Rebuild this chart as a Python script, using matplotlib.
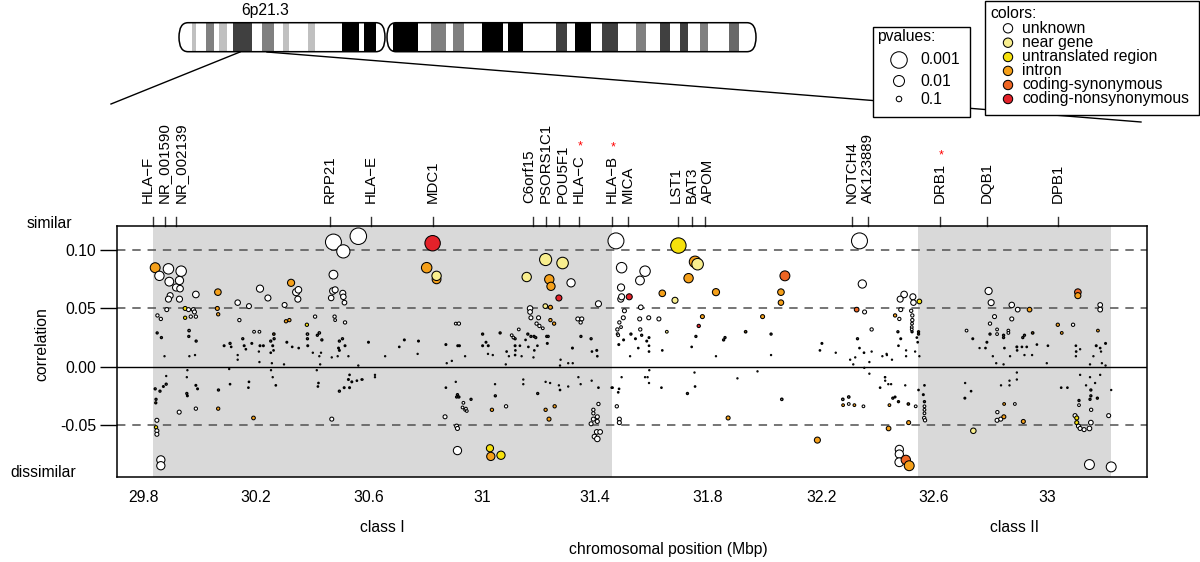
import matplotlib
matplotlib.use("Agg")
import matplotlib.pyplot as plt
from matplotlib.patches import Rectangle, FancyBboxPatch
from matplotlib.transforms import blended_transform_factory
import numpy as np

plt.rcParams['font.family'] = ['Liberation Sans', 'DejaVu Sans']
FS = 11.3

# ---------------- data ----------------
cat_names = ['unknown', 'near gene', 'untranslated region', 'intron',
             'coding-synonymous', 'coding-nonsynonymous']
cat_colors = ['#ffffff', '#f8ee8e', '#f6e10c', '#f5a01a', '#ee6523', '#e4222a']

pval_legend = [0.001, 0.01, 0.1]
pval_labels = ['0.001', '0.01', '0.1']

genes = ['HLA\u2212F', 'NR_001590', 'NR_002139', 'RPP21', 'HLA\u2212E', 'MDC1',
         'C6orf15', 'PSORS1C1', 'POU5F1', 'HLA\u2212C', 'HLA\u2212B', 'MICA',
         'LST1', 'BAT3', 'APOM', 'NOTCH4', 'AK123889', 'DRB1', 'DQB1', 'DPB1']
gene_pos = [29.834, 29.876, 29.915, 30.462, 30.607, 30.825, 31.179, 31.227,
            31.273, 31.342, 31.459, 31.517, 31.694, 31.744, 31.789, 32.310,
            32.367, 32.620, 32.787, 33.039]
gene_star = ['HLA\u2212C', 'HLA\u2212B', 'DRB1']

class_names = ['class I', 'class II']
class_start = [29.834, 32.544]
class_end = [31.459, 33.225]

x_ticks = [29.8, 30.2, 30.6, 31.0, 31.4, 31.8, 32.2, 32.6, 33.0]
x_tick_labels = ['29.8', '30.2', '30.6', '31', '31.4', '31.8', '32.2', '32.6', '33']
y_ticks = [0.10, 0.05, 0.00, -0.05]
y_tick_labels = ['0.10', '0.05', '0.00', '-0.05']

# chromosome 6 ideogram (drawing units along the chromosome)
arm_start = [179, 387]
arm_end = [385, 756]
band_start = [191.7, 205.7, 219.3, 233.3, 261.7, 282.7, 308.3, 341.7, 364, 393.3,
              430.7, 452.7, 481.7, 508.3, 556, 575, 601.7, 635.7, 660, 680, 700, 729.3]
band_end = [196, 214.3, 226.7, 251.7, 274, 288.7, 315.3, 359, 376, 418.3,
            446, 464, 502.7, 523.3, 567.3, 590.7, 618.3, 646, 670, 688.3, 708.3, 739.3]
band_shade = ['#c0c0c0', '#808080', '#c0c0c0', '#404040', '#808080', '#c0c0c0',
              '#c0c0c0', '#000000', '#000000', '#000000', '#808080', '#808080',
              '#000000', '#000000', '#404040', '#000000', '#404040', '#808080',
              '#404040', '#404040', '#808080', '#696969']

# SNPs: position (Mbp), correlation, -log10(p), category index
pos = [
    30.474, 30.562, 30.509, 29.843, 29.890, 29.935, 29.858, 29.893, 29.929, 29.917,
    29.931, 29.896, 29.890, 29.929, 29.987, 30.065, 30.214, 30.242, 30.135, 30.175,
    30.301, 30.324, 30.342, 30.350, 30.348, 30.474, 30.472, 30.466, 30.480, 30.507,
    30.509, 30.513, 29.884, 29.949, 29.961, 29.978, 29.982, 29.969, 29.987, 29.949,
    30.063, 30.066, 29.851, 29.863, 30.141, 30.306, 30.318, 30.380, 30.409, 30.478,
    30.480, 30.515, 29.963, 30.193, 30.212, 30.263, 29.850, 29.865, 29.962, 29.988,
    30.153, 30.087, 30.108, 30.112, 30.158, 30.185, 30.214, 30.226, 30.252, 30.264,
    30.259, 30.262, 30.252, 30.309, 30.328, 30.351, 30.382, 30.382, 30.383, 30.417,
    30.424, 30.433, 30.495, 30.506, 30.492, 30.495, 30.515, 29.876, 29.964, 29.984,
    30.135, 30.164, 30.210, 30.135, 30.401, 30.430, 30.424, 30.468, 30.489, 30.527,
    30.562, 30.299, 30.256, 30.212, 30.427, 30.415, 30.105, 29.957, 30.253, 29.882,
    29.955, 30.175, 29.882, 29.872, 29.843, 29.860, 29.987, 29.993, 30.108, 30.067,
    30.173, 30.270, 30.259, 29.955, 29.957, 29.846, 29.845, 30.421, 30.419, 30.531,
    30.527, 30.539, 30.557, 30.574, 30.512, 30.531, 30.495, 29.928, 29.987, 30.066,
    30.191, 30.468, 29.849, 29.846, 29.849, 29.849, 29.863, 29.863,
    30.825, 31.474, 30.804, 30.839, 30.839, 31.225, 31.285, 31.158, 31.238, 31.244,
    31.315, 31.272, 31.494, 31.492, 31.491, 31.494, 31.412, 31.170, 31.170, 31.224,
    31.242, 31.173, 31.200, 31.193, 31.203, 31.215, 31.242, 31.255, 31.339, 31.353,
    31.349, 31.504, 31.500, 31.486, 31.492, 31.479, 31.480, 31.482, 30.907, 30.918,
    31.002, 31.064, 31.130, 31.105, 31.111, 31.117, 31.162, 31.173, 31.184, 31.190,
    31.229, 31.234, 31.350, 31.386, 30.598, 30.725, 30.775, 30.707, 30.872, 30.914,
    30.920, 31.014, 31.022, 31.002, 31.087, 31.117, 31.118, 31.117, 31.134, 31.154,
    31.164, 31.185, 31.196, 31.231, 31.320, 31.406, 31.408, 31.389, 30.772, 30.657,
    30.893, 30.940, 31.021, 31.038, 31.095, 31.140, 31.182, 31.278, 31.305, 31.321,
    31.276, 31.084, 30.875, 30.621, 30.621, 30.577, 30.907, 31.046, 31.146, 31.146,
    31.225, 31.241, 31.272, 31.305, 31.341, 31.388, 31.349, 31.276, 31.412, 31.459,
    31.485, 31.482, 30.872, 30.913, 30.910, 30.918, 30.961, 31.047, 31.197, 30.934,
    30.931, 30.940, 30.946, 30.943, 30.869, 30.910, 30.913, 31.035, 31.085, 31.225,
    31.257, 31.237, 31.412, 31.394, 31.394, 31.408, 31.394, 31.408, 31.386, 31.406,
    31.418, 31.398, 31.408, 31.477, 31.486, 31.486, 30.913, 31.028, 31.031, 31.067,
    31.695, 31.754, 31.763, 31.731, 32.072, 31.577, 31.559, 31.521, 31.638, 31.683,
    31.828, 32.058, 32.058, 32.346, 32.336, 32.326, 32.354, 31.562, 31.558, 31.590,
    31.626, 31.780, 31.993, 31.767, 31.560, 31.565, 31.654, 31.757, 31.860, 31.855,
    31.933, 32.023, 32.379, 32.329, 31.527, 31.501, 31.543, 31.583, 31.591, 31.484,
    31.553, 31.591, 31.591, 31.638, 31.742, 32.203, 32.196, 32.252, 32.336, 32.352,
    32.379, 31.524, 31.828, 32.023, 32.303, 32.321, 32.314, 32.371, 32.417, 32.432,
    31.592, 32.353, 32.371, 31.752, 31.975, 31.494, 31.577, 31.586, 31.591, 31.904,
    32.426, 32.438, 31.462, 31.635, 31.754, 32.409, 31.727, 32.061, 32.277, 32.298,
    32.298, 32.278, 32.318, 32.350, 32.442, 31.871, 32.187, 32.439,
    32.793, 32.802, 33.109, 33.109, 32.494, 32.480, 32.525, 32.527, 32.548, 32.482,
    32.462, 32.477, 32.519, 32.523, 32.523, 32.522, 32.521, 32.521, 32.522, 32.545,
    32.545, 32.472, 32.482, 32.474, 32.539, 32.542, 32.501, 32.501, 32.533, 32.548,
    32.433, 32.451, 32.875, 32.896, 32.938, 32.814, 32.875, 32.798, 32.715, 32.823,
    32.823, 32.863, 32.863, 32.798, 32.846, 32.846, 32.920, 32.914, 32.949, 33.038,
    33.052, 33.092, 33.180, 33.188, 33.188, 32.737, 32.787, 32.782, 32.849, 32.893,
    32.894, 32.911, 32.928, 32.964, 32.947, 32.920, 32.869, 32.808, 32.761, 32.820,
    32.846, 33.003, 32.999, 33.102, 33.103, 33.117, 33.102, 33.174, 33.188, 33.191,
    33.207, 33.164, 33.152, 33.194, 33.207, 32.427, 32.427, 32.448, 32.498, 32.566,
    32.545, 32.562, 32.566, 32.566, 32.566, 32.566, 32.565, 32.568, 32.454, 32.462,
    32.474, 32.509, 32.535, 32.510, 32.710, 32.731, 32.709, 32.837, 32.867, 32.867,
    32.893, 32.893, 32.848, 32.886, 32.824, 32.823, 32.836, 32.847, 32.916, 32.739,
    33.050, 33.072, 33.117, 33.138, 33.152, 33.155, 33.155, 33.152, 33.178, 33.113,
    33.113, 33.156, 33.170, 33.188, 33.227, 33.218, 33.099, 33.105, 33.105, 33.111,
    33.117, 33.131, 33.150, 33.155, 32.477, 32.477, 32.477, 32.500, 32.512, 33.150,
    33.227,
]
corr = [
    0.107, 0.112, 0.099, 0.085, 0.084, 0.082, 0.078, 0.073, 0.074, 0.068,
    0.067, 0.061, 0.058, 0.058, 0.062, 0.064, 0.067, 0.059, 0.055, 0.052,
    0.053, 0.072, 0.064, 0.066, 0.058, 0.079, 0.065, 0.059, 0.066, 0.063,
    0.060, 0.055, 0.049, 0.050, 0.049, 0.049, 0.047, 0.043, 0.043, 0.042,
    0.050, 0.045, 0.044, 0.041, 0.040, 0.039, 0.040, 0.036, 0.043, 0.043,
    0.040, 0.038, 0.031, 0.030, 0.030, 0.028, 0.029, 0.025, 0.026, 0.022,
    0.024, 0.018, 0.020, 0.017, 0.018, 0.020, 0.018, 0.018, 0.022, 0.024,
    0.018, 0.014, 0.012, 0.021, 0.017, 0.016, 0.028, 0.024, 0.018, 0.027,
    0.029, 0.023, 0.022, 0.024, 0.016, 0.014, 0.018, 0.009, 0.009, 0.010,
    0.010, 0.015, 0.013, 0.006, 0.012, 0.012, 0.009, 0.008, 0.009, 0.009,
    0.001, 0.002, 0.003, 0.004, 0.002, -0.003, -0.002, -0.003, -0.003, -0.008,
    -0.009, -0.013, -0.015, -0.017, -0.019, -0.021, -0.016, -0.019, -0.015, -0.020,
    -0.018, -0.016, -0.009, -0.023, -0.025, -0.028, -0.031, -0.014, -0.017, -0.007,
    -0.011, -0.013, -0.012, -0.011, -0.018, -0.018, -0.021, -0.039, -0.036, -0.036,
    -0.044, -0.045, -0.046, -0.052, -0.055, -0.058, -0.080, -0.085,
    0.106, 0.108, 0.085, 0.075, 0.078, 0.092, 0.089, 0.077, 0.075, 0.069,
    0.072, 0.059, 0.085, 0.068, 0.058, 0.060, 0.054, 0.050, 0.047, 0.052,
    0.051, 0.042, 0.042, 0.037, 0.035, 0.033, 0.040, 0.037, 0.041, 0.041,
    0.038, 0.048, 0.042, 0.038, 0.034, 0.032, 0.028, 0.027, 0.037, 0.037,
    0.028, 0.029, 0.032, 0.027, 0.025, 0.024, 0.028, 0.026, 0.026, 0.025,
    0.026, 0.026, 0.026, 0.024, 0.021, 0.023, 0.022, 0.017, 0.019, 0.018,
    0.018, 0.021, 0.018, 0.018, 0.013, 0.018, 0.014, 0.010, 0.018, 0.023,
    0.017, 0.014, 0.018, 0.020, 0.016, 0.014, 0.009, 0.013, 0.011, 0.009,
    0.005, 0.009, 0.011, 0.010, 0.009, 0.009, 0.008, 0.006, 0.003, 0.003,
    0.001, 0.002, 0.003, -0.007, -0.009, -0.011, -0.013, -0.015, -0.011, -0.015,
    -0.013, -0.014, -0.016, -0.017, -0.009, -0.012, -0.015, -0.020, -0.018, -0.018,
    -0.019, -0.022, -0.018, -0.024, -0.026, -0.026, -0.028, -0.025, -0.023, -0.031,
    -0.035, -0.037, -0.038, -0.036, -0.043, -0.051, -0.053, -0.037, -0.034, -0.037,
    -0.034, -0.045, -0.032, -0.037, -0.040, -0.043, -0.045, -0.047, -0.049, -0.056,
    -0.056, -0.060, -0.062, -0.034, -0.045, -0.048, -0.072, -0.070, -0.077, -0.076,
    0.104, 0.090, 0.088, 0.076, 0.078, 0.082, 0.074, 0.060, 0.063, 0.057,
    0.064, 0.064, 0.055, 0.071, 0.108, 0.049, 0.047, 0.051, 0.041, 0.042,
    0.041, 0.043, 0.043, 0.035, 0.032, 0.027, 0.030, 0.026, 0.025, 0.023,
    0.030, 0.028, 0.032, 0.024, 0.028, 0.023, 0.024, 0.022, 0.025, 0.019,
    0.016, 0.018, 0.013, 0.014, 0.017, 0.020, 0.014, 0.012, 0.016, 0.012,
    0.013, 0.009, 0.009, 0.010, 0.006, 0.008, 0.002, 0.004, 0.009, 0.011,
    -0.003, -0.001, -0.006, -0.005, -0.004, -0.009, -0.009, -0.009, -0.014, -0.010,
    -0.009, -0.015, -0.018, -0.018, -0.017, -0.018, -0.023, -0.028, -0.028, -0.026,
    -0.032, -0.033, -0.033, -0.034, -0.033, -0.044, -0.063, -0.053,
    0.065, 0.055, 0.064, 0.061, 0.062, 0.058, 0.060, 0.055, 0.056, 0.049,
    0.044, 0.041, 0.048, 0.044, 0.040, 0.037, 0.034, 0.032, 0.030, 0.030,
    0.028, 0.030, 0.024, 0.018, 0.025, 0.021, 0.014, 0.009, 0.013, 0.009,
    0.010, 0.006, 0.053, 0.049, 0.049, 0.043, 0.041, 0.037, 0.031, 0.032,
    0.028, 0.031, 0.029, 0.028, 0.027, 0.025, 0.027, 0.025, 0.029, 0.036,
    0.029, 0.036, 0.031, 0.053, 0.049, 0.024, 0.021, 0.016, 0.016, 0.017,
    0.014, 0.017, 0.017, 0.019, 0.010, 0.010, 0.009, 0.009, 0.016, 0.003,
    0.002, 0.018, 0.003, 0.018, 0.013, 0.015, 0.009, 0.018, 0.016, 0.013,
    0.020, 0.009, 0.002, 0.003, 0.001, -0.009, -0.012, -0.015, -0.016, -0.016,
    -0.020, -0.024, -0.030, -0.034, -0.037, -0.040, -0.044, -0.046, -0.027, -0.026,
    -0.030, -0.032, -0.034, -0.048, -0.014, -0.021, -0.027, -0.016, -0.012, -0.016,
    -0.005, -0.011, -0.032, -0.032, -0.039, -0.046, -0.045, -0.043, -0.047, -0.055,
    -0.018, -0.018, -0.007, -0.016, -0.009, -0.020, -0.025, -0.028, -0.027, -0.029,
    -0.033, -0.037, -0.014, -0.007, -0.020, -0.042, -0.042, -0.044, -0.048, -0.051,
    -0.053, -0.054, -0.053, -0.048, -0.071, -0.075, -0.082, -0.080, -0.085, -0.084,
    -0.086,
]
logp = [
    2.9, 3.0, 2.4, 1.8, 1.9, 1.9, 1.7, 1.6, 1.5, 1.3,
    1.2, 1.1, 1.1, 1.1, 1.2, 1.2, 1.3, 1.1, 1.0, 0.9,
    0.9, 1.3, 1.3, 1.2, 1.1, 1.6, 1.2, 1.0, 1.1, 1.1,
    1.0, 0.85, 0.73, 0.73, 0.73, 0.73, 0.73, 0.6, 0.6, 0.6,
    0.73, 0.6, 0.6, 0.6, 0.6, 0.6, 0.6, 0.6, 0.6, 0.6,
    0.5, 0.6, 0.42, 0.5, 0.5, 0.42, 0.36, 0.36, 0.36, 0.36,
    0.36, 0.3, 0.36, 0.24, 0.3, 0.3, 0.3, 0.3, 0.36, 0.36,
    0.3, 0.24, 0.24, 0.3, 0.24, 0.24, 0.42, 0.36, 0.3, 0.36,
    0.42, 0.36, 0.36, 0.36, 0.3, 0.3, 0.3, 0.18, 0.18, 0.18,
    0.18, 0.24, 0.18, 0.18, 0.18, 0.18, 0.18, 0.18, 0.18, 0.18,
    0.18, 0.18, 0.18, 0.18, 0.18, 0.18, 0.18, 0.18, 0.18, 0.18,
    0.18, 0.24, 0.36, 0.3, 0.36, 0.36, 0.3, 0.3, 0.24, 0.36,
    0.24, 0.24, 0.18, 0.36, 0.3, 0.36, 0.36, 0.24, 0.24, 0.24,
    0.3, 0.3, 0.24, 0.24, 0.3, 0.3, 0.36, 0.73, 0.6, 0.6,
    0.67, 0.73, 0.73, 0.6, 0.73, 0.73, 1.5, 1.5,
    2.8, 2.9, 1.9, 1.6, 1.7, 2.2, 2.1, 1.7, 1.7, 1.5,
    1.5, 1.1, 1.9, 1.3, 1.1, 1.1, 1.1, 1.0, 0.85, 0.85,
    0.73, 0.73, 0.73, 0.6, 0.6, 0.5, 0.6, 0.6, 0.73, 0.73,
    0.6, 0.73, 0.73, 0.6, 0.5, 0.6, 0.5, 0.5, 0.5, 0.6,
    0.36, 0.36, 0.5, 0.5, 0.5, 0.36, 0.36, 0.36, 0.36, 0.36,
    0.36, 0.36, 0.36, 0.36, 0.3, 0.3, 0.3, 0.24, 0.3, 0.3,
    0.3, 0.3, 0.3, 0.3, 0.24, 0.3, 0.24, 0.24, 0.24, 0.24,
    0.24, 0.24, 0.24, 0.3, 0.3, 0.3, 0.24, 0.24, 0.18, 0.18,
    0.18, 0.18, 0.18, 0.18, 0.18, 0.18, 0.18, 0.18, 0.18, 0.18,
    0.18, 0.18, 0.18, 0.18, 0.18, 0.18, 0.18, 0.18, 0.18, 0.18,
    0.18, 0.18, 0.18, 0.18, 0.18, 0.18, 0.18, 0.24, 0.24, 0.24,
    0.24, 0.24, 0.24, 0.36, 0.36, 0.36, 0.36, 0.36, 0.36, 0.5,
    0.5, 0.5, 0.5, 0.5, 0.73, 0.73, 0.73, 0.6, 0.6, 0.6,
    0.6, 0.73, 0.6, 0.6, 0.6, 0.73, 0.73, 0.73, 0.73, 0.85,
    0.85, 0.85, 1.0, 0.6, 0.73, 0.73, 1.5, 1.3, 1.5, 1.5,
    2.8, 2.1, 2.1, 1.7, 1.8, 1.9, 1.6, 1.1, 1.2, 1.1,
    1.3, 1.2, 1.0, 1.5, 2.9, 0.85, 0.73, 0.85, 0.73, 0.73,
    0.73, 0.73, 0.73, 0.6, 0.6, 0.36, 0.5, 0.36, 0.36, 0.36,
    0.42, 0.36, 0.6, 0.36, 0.36, 0.3, 0.3, 0.3, 0.3, 0.3,
    0.24, 0.24, 0.24, 0.24, 0.24, 0.3, 0.24, 0.18, 0.24, 0.24,
    0.18, 0.18, 0.18, 0.18, 0.18, 0.18, 0.18, 0.18, 0.18, 0.18,
    0.18, 0.18, 0.18, 0.18, 0.18, 0.18, 0.18, 0.18, 0.18, 0.18,
    0.18, 0.18, 0.24, 0.24, 0.24, 0.24, 0.36, 0.42, 0.42, 0.42,
    0.5, 0.5, 0.5, 0.5, 0.5, 0.73, 1.1, 0.85,
    1.3, 1.1, 1.2, 1.1, 1.2, 1.1, 1.1, 1.0, 0.85, 0.73,
    0.6, 0.6, 0.6, 0.6, 0.6, 0.5, 0.5, 0.5, 0.36, 0.36,
    0.36, 0.36, 0.3, 0.24, 0.24, 0.24, 0.18, 0.18, 0.18, 0.18,
    0.18, 0.18, 1.0, 0.85, 0.85, 0.73, 0.73, 0.6, 0.5, 0.5,
    0.5, 0.5, 0.5, 0.36, 0.36, 0.36, 0.36, 0.36, 0.42, 0.6,
    0.5, 0.6, 0.5, 0.85, 0.85, 0.3, 0.3, 0.24, 0.24, 0.3,
    0.24, 0.24, 0.24, 0.24, 0.18, 0.18, 0.18, 0.18, 0.18, 0.18,
    0.18, 0.24, 0.18, 0.24, 0.24, 0.18, 0.18, 0.3, 0.24, 0.18,
    0.3, 0.18, 0.18, 0.18, 0.18, 0.18, 0.18, 0.18, 0.18, 0.24,
    0.24, 0.3, 0.36, 0.5, 0.5, 0.5, 0.6, 0.6, 0.36, 0.3,
    0.36, 0.42, 0.5, 0.73, 0.18, 0.24, 0.3, 0.18, 0.18, 0.18,
    0.18, 0.18, 0.5, 0.5, 0.6, 0.73, 0.73, 0.73, 0.73, 1.0,
    0.24, 0.24, 0.18, 0.18, 0.18, 0.36, 0.36, 0.36, 0.36, 0.36,
    0.5, 0.6, 0.18, 0.18, 0.18, 0.73, 0.73, 0.73, 0.73, 0.73,
    0.73, 0.73, 0.85, 0.85, 1.5, 1.5, 1.6, 1.7, 1.8, 1.8,
    1.8,
]
cat = [
    0, 0, 0, 3, 0, 0, 0, 0, 0, 0,
    0, 0, 0, 0, 0, 3, 0, 0, 0, 0,
    0, 3, 0, 0, 0, 0, 0, 0, 0, 0,
    0, 0, 0, 2, 0, 0, 0, 0, 0, 2,
    3, 3, 0, 0, 0, 3, 3, 2, 0, 0,
    0, 0, 0, 0, 0, 3, 0, 0, 0, 0,
    0, 0, 0, 3, 0, 0, 0, 0, 0, 0,
    0, 3, 3, 0, 3, 0, 0, 0, 0, 0,
    0, 0, 0, 0, 0, 0, 0, 0, 0, 0,
    0, 0, 0, 0, 3, 3, 0, 0, 0, 0,
    0, 3, 3, 0, 3, 3, 3, 0, 0, 0,
    0, 0, 0, 0, 0, 0, 0, 0, 0, 0,
    0, 3, 3, 0, 0, 0, 3, 0, 0, 0,
    0, 0, 0, 0, 0, 0, 0, 0, 0, 3,
    3, 0, 0, 2, 0, 0, 0, 0,
    5, 0, 3, 3, 1, 1, 1, 1, 3, 3,
    0, 5, 0, 0, 0, 0, 0, 0, 0, 1,
    3, 0, 0, 0, 0, 0, 3, 3, 0, 0,
    0, 0, 0, 0, 0, 0, 0, 0, 0, 0,
    3, 3, 0, 0, 0, 0, 0, 0, 0, 0,
    0, 0, 0, 0, 0, 0, 5, 0, 0, 0,
    0, 0, 3, 0, 0, 0, 0, 0, 0, 0,
    0, 0, 0, 0, 0, 0, 0, 0, 3, 0,
    0, 0, 3, 0, 0, 0, 0, 3, 3, 3,
    3, 0, 0, 0, 0, 0, 0, 0, 3, 3,
    3, 3, 3, 0, 0, 0, 0, 0, 0, 0,
    0, 0, 0, 0, 0, 0, 0, 0, 0, 0,
    0, 0, 0, 0, 0, 0, 0, 3, 0, 3,
    3, 3, 0, 0, 0, 0, 0, 0, 0, 0,
    0, 0, 0, 0, 0, 0, 0, 2, 3, 2,
    2, 3, 1, 3, 4, 0, 0, 5, 3, 1,
    3, 3, 3, 0, 0, 4, 0, 0, 0, 0,
    0, 3, 3, 5, 0, 0, 1, 0, 0, 0,
    3, 0, 0, 0, 0, 0, 0, 0, 0, 0,
    0, 0, 0, 0, 5, 0, 0, 3, 0, 0,
    0, 0, 3, 0, 3, 3, 0, 0, 0, 3,
    0, 0, 0, 3, 3, 0, 0, 0, 0, 0,
    0, 3, 0, 0, 0, 0, 0, 0, 0, 0,
    0, 3, 3, 0, 3, 3, 3, 3,
    0, 0, 4, 3, 0, 0, 0, 0, 2, 0,
    3, 0, 0, 0, 0, 0, 0, 0, 0, 3,
    3, 0, 0, 0, 0, 0, 3, 0, 0, 3,
    3, 0, 0, 0, 3, 0, 0, 0, 0, 0,
    0, 0, 0, 0, 0, 0, 0, 0, 3, 3,
    3, 0, 3, 0, 0, 0, 0, 3, 0, 0,
    0, 0, 3, 0, 3, 0, 0, 0, 3, 0,
    3, 0, 0, 0, 3, 0, 0, 0, 0, 3,
    0, 0, 0, 3, 0, 0, 0, 3, 0, 0,
    0, 0, 0, 0, 0, 0, 0, 0, 0, 0,
    3, 3, 0, 3, 0, 3, 0, 0, 0, 0,
    0, 0, 3, 0, 0, 0, 0, 3, 3, 1,
    3, 3, 0, 0, 0, 0, 0, 0, 3, 0,
    0, 0, 0, 3, 0, 0, 0, 2, 2, 0,
    0, 0, 0, 0, 0, 0, 0, 4, 3, 0,
    0,
]


def marker_diam(lp):
    # circle diameter (points) grows linearly with -log10(p)
    return 3.96 * np.asarray(lp, dtype=float)


def marker_area(lp):
    return marker_diam(lp) ** 2


fig = plt.figure(figsize=(12, 5.62), dpi=100)

# overlay in pixel units for ideogram + legends
ov = fig.add_axes([0, 0, 1, 1])
ov.set_xlim(0, 1200)
ov.set_ylim(562, 0)
ov.axis('off')

arm_top, arm_h, rx = 22.7, 29.0, 9.0
for a0, a1 in zip(arm_start, arm_end):
    shape = dict(boxstyle=f"round,pad=0,rounding_size={rx}",
                 mutation_aspect=(arm_h / 2) / rx)
    body = FancyBboxPatch((a0, arm_top), a1 - a0, arm_h, fc='white', ec='none', **shape)
    ov.add_patch(body)
    for b0, b1, sh in zip(band_start, band_end, band_shade):
        if b0 >= a0 and b1 <= a1:
            r = Rectangle((b0, arm_top), b1 - b0, arm_h, fc=sh, ec='none')
            ov.add_patch(r)
            r.set_clip_path(body)
    ov.add_patch(FancyBboxPatch((a0, arm_top), a1 - a0, arm_h, fill=False,
                                ec='black', lw=1.1, **shape))
ov.text(265, 10, '6p21.3', ha='center', va='center', fontsize=FS)
ov.plot([240, 111], [52, 104], color='black', lw=1)
ov.plot([267, 1141], [52, 122], color='black', lw=1)

# p-value legend
ov.add_patch(Rectangle((872.7, 26.7), 97.3, 90.6, fc='white', ec='black', lw=1, zorder=5))
ov.text(877, 37, 'pvalues:', ha='left', va='center', fontsize=FS, zorder=6)
leg_y = [60, 81, 99]
ov.scatter([899] * 3, leg_y, s=marker_area(-np.log10(pval_legend)), fc='white',
           ec='black', lw=0.75, zorder=6)
for y, lab in zip(leg_y, pval_labels):
    ov.text(920, y, lab, ha='left', va='center', fontsize=FS, zorder=6)

# colour legend
ov.add_patch(Rectangle((985, 1), 213.5, 114, fc='white', ec='black', lw=1, zorder=5))
ov.text(990, 13, 'colors:', ha='left', va='center', fontsize=FS, zorder=6)
col_y = [28.3, 42.7, 57.0, 70.9, 85.0, 99.0]
ov.scatter([1008] * 6, col_y, s=marker_area([1.7] * 6), c=cat_colors,
           ec='black', lw=0.75, zorder=6)
for y, lab in zip(col_y, cat_names):
    ov.text(1022, y, lab, ha='left', va='center', fontsize=FS, zorder=6)

# main panel
ax = fig.add_axes([0.0973, 0.1512, 0.8586, 0.4467])
ax.set_xlim(29.707, 33.354)
ax.set_ylim(-0.0947, 0.1208)

for lo, hi in zip(class_start, class_end):
    ax.axvspan(lo, hi, color='#d9d9d9', lw=0, zorder=0)
for yv in (0.10, 0.05, -0.05):
    ax.axhline(yv, color='#505050', lw=1.1, ls=(0, (5.5, 4.5)), zorder=1)
ax.axhline(0, color='black', lw=1, zorder=1)

# tiny symbols render as solid dots, as in the original device output
edge_w = np.where(marker_diam(logp) < 1.8, 1.0, 0.75)
ax.scatter(pos, corr, s=marker_area(logp), c=[cat_colors[k] for k in cat],
           edgecolors='black', linewidths=edge_w, zorder=3)

for sp in ax.spines.values():
    sp.set_linewidth(1.1)

ax.set_yticks(y_ticks, y_tick_labels)
ax.tick_params(axis='y', length=12, width=1, pad=3, labelsize=FS)
ax.set_xticks(x_ticks, x_tick_labels)
ax.tick_params(axis='x', length=0, pad=9, labelsize=FS)

# spread crowded gene labels a little, ticks stay at the gene positions
px_per_mbp = fig.get_figwidth() * fig.dpi * 0.8586 / (33.354 - 29.707)
min_gap = 16.5 / px_per_mbp
label_x = list(gene_pos)
for _ in range(300):
    moved = False
    for i in range(len(label_x) - 1):
        gap = label_x[i + 1] - label_x[i]
        if gap < min_gap - 1e-6:
            d = (min_gap - gap) / 2
            label_x[i] -= d
            label_x[i + 1] += d
            moved = True
    if not moved:
        break

trans = blended_transform_factory(ax.transData, ax.transAxes)
for g, gx, lx in zip(genes, gene_pos, label_x):
    ax.plot([gx, gx], [1.0, 1.036], transform=trans, color='#333333', lw=1, clip_on=False)
    t = ax.text(lx, 1.092, g, transform=trans, rotation=90, ha='center', va='bottom',
                fontsize=10.8)
    if g in gene_star:
        ax.annotate('*', xy=(0.62, 1.0), xycoords=t, xytext=(0, 1),
                    textcoords='offset points', ha='center', va='bottom',
                    color='red', fontsize=9)

ax.text(-0.0657, 1.008, 'similar', transform=ax.transAxes, ha='center', va='center', fontsize=FS)
ax.text(-0.0715, 0.02, 'dissimilar', transform=ax.transAxes, ha='center', va='center', fontsize=FS)
ax.text(-0.0725, 0.53, 'correlation', transform=ax.transAxes, rotation=90,
        ha='center', va='center', fontsize=FS)

for lo, hi, name in zip(class_start, class_end, class_names):
    ax.text((lo + hi) / 2, -0.203, name, transform=trans, ha='center', va='center', fontsize=FS)
ax.text(31.66, -0.29, 'chromosomal position (Mbp)', transform=trans,
        ha='center', va='center', fontsize=FS)

fig.savefig('out.png', dpi=100)
